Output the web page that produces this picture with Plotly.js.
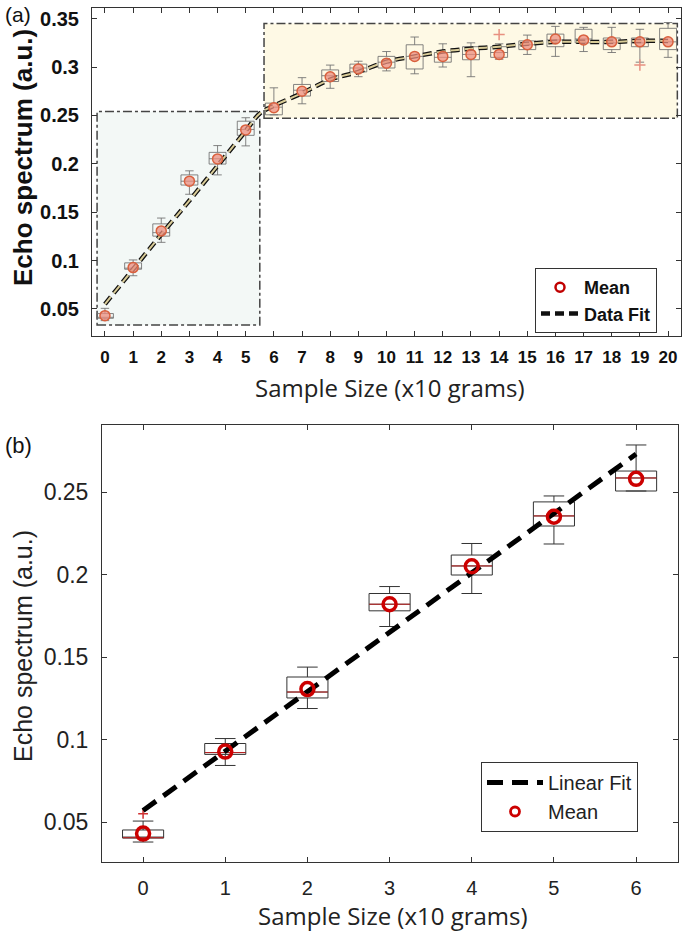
<!DOCTYPE html>
<html>
<head>
<meta charset="utf-8">
<script src="https://cdn.plot.ly/plotly-3.0.1.min.js"></script>
<style>html,body{margin:0;padding:0;background:#fff;}#chart{width:685px;height:933px;}</style>
</head>
<body>
<div id="chart"></div>
<script>
// ---------- data ----------
const sampleSizes = [0,1,2,3,4,5,6,7,8,9,10,11,12,13,14,15,16,17,18,19,20];
const meanValues  = [0.043,0.0927,0.1306,0.182,0.205,0.235,0.258,0.275,0.290,0.298,0.304,0.311,0.311,0.313,0.313,0.323,0.329,0.328,0.326,0.326,0.326];
const q1Values    = [0.0403,0.091,0.1252,0.178,0.1997,0.2294,0.2506,0.270,0.285,0.295,0.299,0.298,0.305,0.3075,0.310,0.318,0.321,0.325,0.318,0.321,0.318];
const medianValues= [0.0405,0.0921,0.1288,0.182,0.2052,0.2355,0.2585,0.276,0.291,0.299,0.305,0.311,0.310,0.313,0.315,0.323,0.328,0.329,0.325,0.325,0.326];
const q3Values    = [0.0452,0.0976,0.1379,0.1885,0.2118,0.244,0.2627,0.282,0.297,0.303,0.311,0.323,0.315,0.321,0.321,0.327,0.334,0.339,0.330,0.330,0.340];
const lowerWhisker= [0.0379,0.0843,0.1188,0.1685,0.1885,0.2185,0.2506,0.262,0.278,0.290,0.296,0.293,0.300,0.290,0.308,0.313,0.311,0.316,0.315,0.305,0.310];
const upperWhisker= [0.0506,0.1006,0.1439,0.1927,0.2188,0.2476,0.2785,0.289,0.302,0.306,0.316,0.331,0.324,0.325,0.324,0.333,0.342,0.341,0.341,0.339,0.346];
const outlierXa = [14, 19];
const outlierYa = [0.3335, 0.302];
const outlierXb = [0];
const outlierYb = [0.055];

// panel (a) data fit
const fitXa = [0,1,2,3,4,5,5.5,6,7,8,9,10,11,12,13,14,15,16,17,18,19,20];
const fitYa = [0.055,0.091,0.127,0.162,0.198,0.234,0.252,0.260,0.273,0.287,0.295,0.3055,0.311,0.316,0.319,0.321,0.324,0.326,0.326,0.326,0.327,0.327];
// panel (b) linear fit
const fitXb = [0, 6];
const fitYb = [0.057, 0.273];

// highlighted regions in (a) [x0, x1, y0, y1]
const regionLinear = [-0.28, 5.5, 0.0334, 0.254];
const regionSat    = [5.65, 20.33, 0.247, 0.345];

const nb = 7; // panel (b) shows sizes 0..6
const xb = sampleSizes.slice(0, nb);

// ---------- traces ----------
const F = 'Liberation Sans, Arial, sans-serif';
const traces = [];

// (a) boxes
traces.push({
  type:'box', xaxis:'x', yaxis:'y', x: sampleSizes,
  q1: q1Values, median: medianValues, q3: q3Values,
  lowerfence: lowerWhisker, upperfence: upperWhisker,
  width: 0.6, whiskerwidth: 0.5, boxpoints:false,
  line:{color:'rgba(110,110,110,0.85)', width:1},
  fillcolor:'rgba(255,255,255,0)', showlegend:false, hoverinfo:'skip'
});
// (a) outliers
traces.push({type:'scatter', mode:'markers', xaxis:'x', yaxis:'y', x: outlierXa, y: outlierYa,
  marker:{symbol:'cross-thin', size:8, line:{color:'#e89080', width:1.5}}, showlegend:false});
// (a) fit (two layers)
traces.push({type:'scatter', mode:'lines', xaxis:'x', yaxis:'y', x: fitXa, y: fitYa, name:'Data Fit',
  line:{color:'#111', width:4.5, dash:'9px,5px', shape:'spline'}, legend:'legend', legendrank:2});
traces.push({type:'scatter', mode:'lines', xaxis:'x', yaxis:'y', x: fitXa, y: fitYa,
  line:{color:'#d9cc98', width:2, dash:'9px,5px', shape:'spline'}, showlegend:false});
// (a) means
traces.push({type:'scatter', mode:'markers', xaxis:'x', yaxis:'y', x: sampleSizes, y: meanValues,
  marker:{symbol:'circle', size:10, color:'rgba(236,140,125,0.75)', line:{color:'#d9603e', width:1.5}},
  showlegend:false});
// (a) legend entry for Mean
traces.push({type:'scatter', mode:'markers', xaxis:'x', yaxis:'y', x:[null], y:[null], name:'Mean',
  marker:{symbol:'circle-open', size:9, color:'#c00000', line:{width:2.5}}, legend:'legend', legendrank:1});

// (b) boxes
traces.push({
  type:'box', xaxis:'x2', yaxis:'y2', x: xb,
  q1: q1Values.slice(0,nb), median: medianValues.slice(0,nb), q3: q3Values.slice(0,nb),
  lowerfence: lowerWhisker.slice(0,nb), upperfence: upperWhisker.slice(0,nb),
  width: 0.5, whiskerwidth: 0.5, boxpoints:false,
  line:{color:'#333', width:1}, fillcolor:'rgba(255,255,255,0)', showlegend:false, hoverinfo:'skip'
});
// (b) median red lines
traces.push({type:'scatter', mode:'markers', xaxis:'x2', yaxis:'y2', x: xb, y: medianValues.slice(0,nb),
  marker:{symbol:'line-ew', size:29, line:{color:'#c02020', width:1}}, showlegend:false});
// (b) outlier
traces.push({type:'scatter', mode:'markers', xaxis:'x2', yaxis:'y2', x: outlierXb, y: outlierYb,
  marker:{symbol:'cross-thin', size:7, line:{color:'#d03030', width:1.5}}, showlegend:false});
// (b) linear fit
traces.push({type:'scatter', mode:'lines', xaxis:'x2', yaxis:'y2', x: fitXb, y: fitYb, name:'Linear Fit',
  line:{color:'#000', width:5, dash:'16px,9px'}, legend:'legend2'});
// (b) means (plot)
traces.push({type:'scatter', mode:'markers', xaxis:'x2', yaxis:'y2', x: xb, y: meanValues.slice(0,nb), name:'Mean',
  marker:{symbol:'circle-open', size:13, color:'#cc0000', line:{width:3.5}}, showlegend:false});
// (b) legend entry for Mean
traces.push({type:'scatter', mode:'markers', xaxis:'x2', yaxis:'y2', x:[null], y:[null], name:'Mean',
  marker:{symbol:'circle-open', size:9, color:'#cc0000', line:{width:2.8}}, legend:'legend2'});

// ---------- layout ----------
const W = 685, H = 933;
const axBase = {showline:true, linecolor:'#333', linewidth:1, mirror:'ticks', ticks:'inside', ticklen:5,
  tickcolor:'#333', showgrid:false, zeroline:false, fixedrange:true};

function label(text, px, py, font, angle) {
  return {text:text, xref:'paper', yref:'paper', x:px/W, y:1-py/H, xanchor:'center', yanchor:'middle',
    showarrow:false, textangle:angle||0, font:font};
}

const layout = {
  width:W, height:H, margin:{l:0,r:0,t:0,b:0}, paper_bgcolor:'#fff', plot_bgcolor:'#fff',
  font:{family:F, color:'#111'},
  xaxis: Object.assign({}, axBase, {domain:[92/W, 681/W], range:[-0.46,20.46], tickmode:'linear', tick0:0, dtick:1,
    tickfont:{family:F, size:17, weight:'bold', color:'#111'}, ticklabelstandoff:6, anchor:'y'}),
  yaxis: Object.assign({}, axBase, {domain:[1-336/H, 1-8/H], range:[0.022,0.361], tickmode:'array',
    tickvals:[0.05,0.1,0.15,0.2,0.25,0.3,0.35], ticktext:['0.05','0.1','0.15','0.2','0.25','0.3','0.35'],
    tickfont:{family:F, size:20, weight:'bold', color:'#111'}, ticklabelstandoff:8, anchor:'x'}),
  xaxis2: Object.assign({}, axBase, {domain:[102/W, 678/W], range:[-0.5,6.51], tickmode:'linear', tick0:0, dtick:1,
    tickfont:{family:F, size:20, color:'#222'}, ticklabelstandoff:8, anchor:'y2'}),
  yaxis2: Object.assign({}, axBase, {domain:[1-862/H, 1-425/H], range:[0.0258,0.2906], tickmode:'array',
    tickvals:[0.05,0.1,0.15,0.2,0.25], ticktext:['0.05','0.1','0.15','0.2','0.25'],
    tickfont:{family:F, size:23, color:'#222'}, ticklabelstandoff:8, anchor:'x2'}),
  legend:{x:535/W, y:1-268/H, xanchor:'left', yanchor:'top', bgcolor:'#fff', bordercolor:'#333', borderwidth:1,
    font:{family:F, size:18, weight:'bold', color:'#111'}, tracegroupgap:0, itemwidth:38},
  legend2:{x:481/W, y:1-762/H, xanchor:'left', yanchor:'top', bgcolor:'#fff', bordercolor:'#333', borderwidth:1,
    font:{family:F, size:20, color:'#222'}, tracegroupgap:0, itemwidth:56},
  shapes:[
    {type:'rect', xref:'x', yref:'y', layer:'below', x0:regionLinear[0], x1:regionLinear[1], y0:regionLinear[2], y1:regionLinear[3],
      fillcolor:'rgba(234,243,238,0.55)', line:{color:'#444', width:1.5, dash:'dashdot'}},
    {type:'rect', xref:'x', yref:'y', layer:'below', x0:regionSat[0], x1:regionSat[1], y0:regionSat[2], y1:regionSat[3],
      fillcolor:'rgba(253,245,212,0.6)', line:{color:'#444', width:1.5, dash:'dashdot'}}
  ],
  annotations:[
    label('(a)', 18, 15, {family:F, size:21, color:'#111'}),
    label('(b)', 18, 445, {family:F, size:22, color:'#111'}),
    label('Echo spectrum (a.u.)', 23, 158, {family:F, size:26, weight:'bold', color:'#111'}, -90),
    label('Echo spectrum (a.u.)', 23, 646, {family:F, size:25, color:'#222'}, -90),
    label('Sample Size (x10 grams)', 390, 387, {family:'Open Sans, sans-serif', size:24, color:'#222'}),
    label('Sample Size (x10 grams)', 393, 915, {family:'Open Sans, sans-serif', size:24, color:'#222'})
  ]
};

Plotly.newPlot('chart', traces, layout, {staticPlot:true, displayModeBar:false});
</script>
</body>
</html>
